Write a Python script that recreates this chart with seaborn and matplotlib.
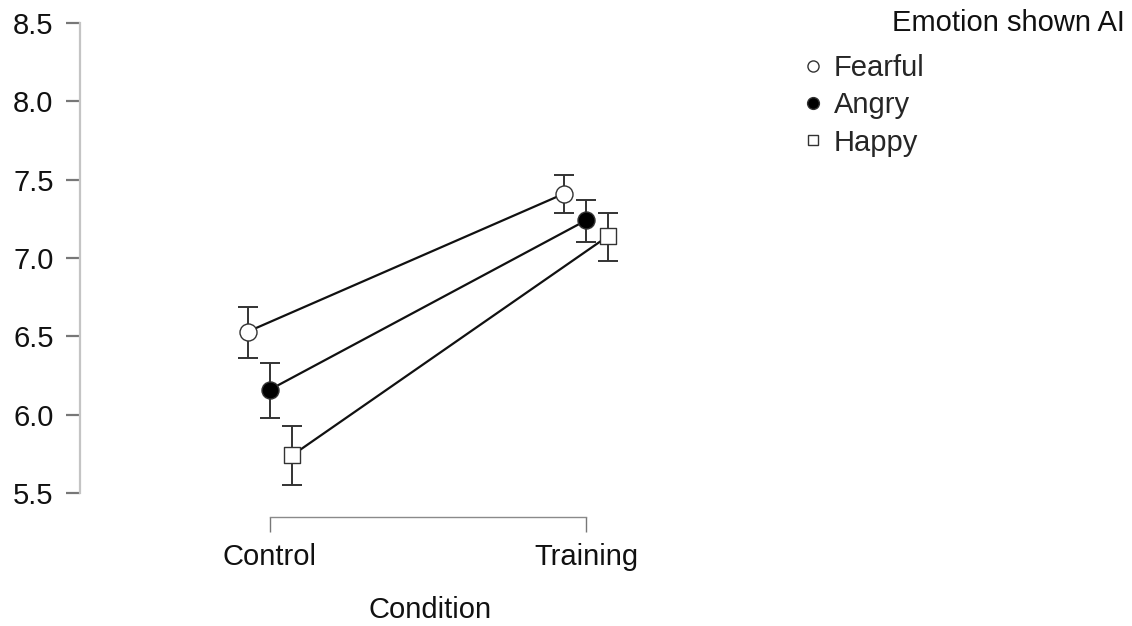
import matplotlib
matplotlib.use("Agg")
import matplotlib.pyplot as plt
from matplotlib.lines import Line2D
import numpy as np
import pandas as pd
import seaborn as sns

sns.set_theme(style="white")
plt.rcParams["font.family"] = ["Liberation Sans", "DejaVu Sans"]

conditions = ["Control", "Training"]
emotions = ["Fearful", "Angry", "Happy"]
means = {
    "Fearful": [6.53, 7.41],
    "Angry": [6.16, 7.24],
    "Happy": [5.74, 7.14],
}
ci_low = {
    "Fearful": [6.36, 7.29],
    "Angry": [5.98, 7.10],
    "Happy": [5.55, 6.98],
}
ci_high = {
    "Fearful": [6.69, 7.53],
    "Angry": [6.33, 7.37],
    "Happy": [5.93, 7.29],
}
y_ticks = [5.5, 6.0, 6.5, 7.0, 7.5, 8.0, 8.5]

rows = []
for e in emotions:
    for i, c in enumerate(conditions):
        rows.append({"Condition": c, "Emotion": e, "cond_idx": i,
                     "mean": means[e][i], "lo": ci_low[e][i], "hi": ci_high[e][i]})
df = pd.DataFrame(rows)

dodge = {"Fearful": -0.07, "Angry": 0.0, "Happy": 0.07}
style = {
    "Fearful": dict(marker="o", facecolor="white", s=150),
    "Angry": dict(marker="o", facecolor="black", s=150),
    "Happy": dict(marker="s", facecolor="white", s=120),
}
df["x"] = df["cond_idx"] + df["Emotion"].map(dodge)

FS = 21

fig = plt.figure(figsize=(11.32, 6.26), dpi=100)
ax = fig.add_axes([80 / 1132, 133 / 626, 700 / 1132, 470 / 626])

for e in emotions:
    sub = df[df["Emotion"] == e]
    ax.errorbar(sub["x"], sub["mean"],
                yerr=[sub["mean"] - sub["lo"], sub["hi"] - sub["mean"]],
                fmt="none", ecolor="#333333", elinewidth=1.4, capsize=7.5,
                capthick=1.4, zorder=2)
    sns.lineplot(data=sub, x="x", y="mean", color="#111111", linewidth=1.6,
                 ax=ax, zorder=3, legend=False)
    sns.scatterplot(data=sub, x="x", y="mean", marker=style[e]["marker"],
                    s=style[e]["s"], color=style[e]["facecolor"],
                    edgecolor="#333333", linewidth=1.0, ax=ax, zorder=4,
                    legend=False)

ax.set_xlim(-0.601, 1.614)
ax.set_ylim(5.5, 8.5)
ax.set_yticks(y_ticks)
ax.set_yticklabels([f"{v:.1f}" for v in y_ticks])
ax.set_xticks([0, 1])
ax.set_xticklabels(conditions)
ax.set_xlabel("Condition", fontsize=FS, labelpad=18, color="#111111")
ax.set_ylabel("")

for side in ["top", "right"]:
    ax.spines[side].set_visible(False)
ax.spines["left"].set_bounds(5.5, 8.5)
ax.spines["left"].set_color("#c4c4c4")
ax.spines["left"].set_linewidth(1.6)
ax.spines["bottom"].set_bounds(0, 1)
ax.spines["bottom"].set_position(("outward", 17))
ax.spines["bottom"].set_color("#8a8a8a")
ax.spines["bottom"].set_linewidth(1.0)

ax.tick_params(axis="y", length=10, width=1.6, color="#777777", pad=9,
               labelsize=FS, labelcolor="#111111", left=True)
ax.tick_params(axis="x", length=11, width=1.0, color="#777777", pad=8,
               labelsize=FS, labelcolor="#111111", bottom=True, direction="out")

handles = [
    Line2D([], [], linestyle="none", marker="o", markersize=8,
           markerfacecolor="white", markeredgecolor="#333333", markeredgewidth=1.0),
    Line2D([], [], linestyle="none", marker="o", markersize=8.5,
           markerfacecolor="black", markeredgecolor="#333333", markeredgewidth=1.0),
    Line2D([], [], linestyle="none", marker="s", markersize=7.5,
           markerfacecolor="white", markeredgecolor="#333333", markeredgewidth=1.0),
]
fig.legend(handles, emotions, loc="upper left",
           bbox_to_anchor=(803 / 1132, 1 - 54 / 626), frameon=False,
           fontsize=FS, handlelength=0.7, handletextpad=0.35,
           labelspacing=0.32, borderpad=0, borderaxespad=0)
fig.text(1125 / 1132, 1 - 23 / 626, "Emotion shown AI", ha="right",
         va="center", fontsize=FS, color="#111111")

fig.savefig("out.png", dpi=100, facecolor="white")
